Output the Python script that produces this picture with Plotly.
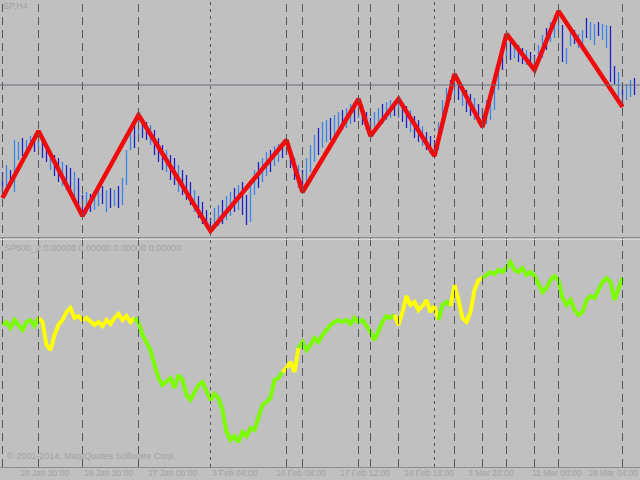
import plotly.graph_objects as go

# ---------------- data ----------------
# H4 price bars (price points), one per bar index
bar_high = [1928, 1935, 1930, 1960, 1958, 1962, 1960, 1964, 1965, 1969,
            1960, 1955, 1950, 1945, 1942, 1938, 1935, 1932, 1928, 1922,
            1905, 1908, 1906, 1910, 1912, 1914, 1910, 1912, 1910, 1914,
            1922, 1950, 1972, 1978, 1985, 1982, 1978, 1975, 1970, 1962,
            1955, 1950, 1945, 1942, 1935, 1930, 1925, 1918, 1910, 1904,
            1898, 1890, 1882, 1892, 1895, 1900, 1904, 1908, 1912, 1915,
            1918, 1905, 1915, 1930, 1938, 1942, 1948, 1950, 1954, 1956,
            1958, 1960, 1952, 1942, 1935, 1930, 1942, 1955, 1965, 1972,
            1978, 1980, 1982, 1985, 1988, 1990, 1992, 1996, 1998, 2001,
            1995, 1988, 1982, 1988, 1992, 1996, 1998, 2000, 1999, 2001,
            1998, 1994, 1990, 1984, 1980, 1974, 1968, 1964, 1960, 1978,
            2000, 2012, 2020, 2026, 2020, 2016, 2010, 2006, 2002, 1996,
            1992, 2000, 2005, 2020, 2040, 2055, 2066, 2060, 2058, 2055,
            2052, 2050, 2048, 2045, 2055, 2065, 2072, 2078, 2085, 2089,
            2075, 2052, 2068, 2070, 2066, 2070, 2082, 2078, 2076, 2078,
            2076, 2075, 2074, 2034, 2028, 2014, 2016, 2020, 2022]
bar_low = [1902, 1905, 1914, 1908, 1940, 1944, 1948, 1950, 1948, 1952,
           1942, 1938, 1930, 1924, 1918, 1914, 1910, 1904, 1900, 1893,
           1884, 1886, 1888, 1890, 1894, 1896, 1888, 1892, 1894, 1892,
           1895, 1915, 1950, 1952, 1960, 1962, 1960, 1955, 1945, 1938,
           1930, 1928, 1920, 1915, 1908, 1905, 1900, 1895, 1888, 1882,
           1876, 1872, 1869, 1872, 1874, 1876, 1880, 1884, 1888, 1890,
           1885, 1875, 1878, 1905, 1912, 1918, 1924, 1928, 1934, 1938,
           1942, 1945, 1932, 1920, 1912, 1908, 1915, 1928, 1938, 1945,
           1952, 1958, 1960, 1962, 1965, 1970, 1972, 1976, 1978, 1982,
           1975, 1970, 1964, 1968, 1972, 1976, 1980, 1982, 1984, 1982,
           1978, 1972, 1968, 1962, 1958, 1954, 1950, 1946, 1944, 1950,
           1970, 1988, 2000, 2005, 2000, 1994, 1988, 1984, 1980, 1976,
           1973, 1976, 1980, 1990, 2010, 2030, 2042, 2040, 2042, 2038,
           2036, 2035, 2032, 2030, 2035, 2042, 2050, 2058, 2062, 2068,
           2038, 2036, 2054, 2056, 2052, 2055, 2062, 2060, 2055, 2064,
           2060, 2052, 2018, 2016, 2002, 1993, 2000, 2003, 2005]
bar_up = [0, 1, 0, 1, 1, 0, 1, 1, 0, 1,
          0, 0, 1, 0, 0, 1, 0, 0, 1, 0, 0,
          1, 0, 1, 1, 0, 1, 0, 1, 0, 1, 1, 1, 0, 1,
          0, 0, 1, 0, 0, 0, 1, 0, 0, 1, 0, 0, 0, 1, 0, 0, 0, 0,
          1, 1, 0, 1, 1, 0, 1, 0, 0, 1, 1, 0, 1, 1, 0, 1, 1, 0, 1,
          0, 0, 1, 0,
          1, 1, 1, 0, 1, 1, 0, 1, 1, 0, 1, 1, 0, 1,
          0, 0, 0,
          1, 1, 0, 1, 1, 0, 1,
          0, 0, 1, 0, 0, 1, 0, 0, 0,
          1, 1, 1, 0, 1,
          0, 1, 0, 0, 1, 0, 0,
          1, 1, 1, 1, 0, 1,
          0, 1, 0, 0, 1, 0, 0,
          1, 1, 0, 1, 1, 1,
          0, 1, 1, 0, 1, 1, 0, 1, 1, 0, 1, 1, 0, 0, 1, 0, 1, 1, 0]

# ZigZag turning points (bar index, High/Low)
zz_index = [0, 9, 20, 34, 52, 71, 75, 89, 92, 99, 108, 113, 120, 126, 133, 139, 155]
zz_type = ["L", "H", "L", "H", "L", "H", "L", "H", "L", "H", "L", "H", "L", "H", "L", "H", "L"]
zz_dotted = [0, 0, 0, 0, 1, 0, 0, 0, 0, 0, 1, 0, 0, 0, 0, 0, 0]

# SP500_2 oscillator values and state (1 = yellow, 0 = green)
osc_values = [145, 148, 142, 150, 145, 140, 148, 150, 144, 152,
              148, 125, 120, 135, 145, 150, 158, 162, 152, 154,
              150, 152, 148, 145, 148, 144, 150, 146, 152, 156,
              150, 154, 148, 152, 148, 135, 128, 120, 105, 92,
              85, 88, 92, 82, 95, 90, 75, 70, 78, 85,
              88, 78, 70, 76, 72, 60, 38, 30, 34, 28,
              38, 34, 42, 40, 52, 65, 68, 72, 90, 92,
              98, 102, 108, 98, 122, 128, 120, 125, 132, 128,
              135, 140, 145, 148, 150, 148, 150, 146, 152, 148,
              150, 144, 138, 130, 140, 148, 154, 152, 155, 145,
              158, 174, 165, 168, 160, 164, 170, 158, 164, 150,
              165, 168, 164, 185, 170, 152, 148, 158, 180, 190,
              192, 195, 198, 196, 200, 198, 202, 208, 200, 198,
              202, 195, 198, 194, 185, 178, 182, 190, 194, 190,
              172, 165, 170, 160, 155, 158, 170, 174, 172, 180,
              188, 192, 188, 170, 180, 192]
osc_state = [0, 0, 0, 0, 0, 0, 0, 0, 0, 0,
             1, 1, 1, 1, 1, 1, 1, 1, 1, 1, 1, 1, 1, 1, 1, 1, 1, 1, 1, 1, 1, 1, 1, 1,
             0, 0, 0, 0, 0, 0, 0, 0, 0, 0, 0, 0, 0, 0, 0, 0, 0, 0, 0, 0, 0, 0, 0, 0,
             0, 0, 0, 0, 0, 0, 0, 0, 0, 0, 0, 0, 0,
             1, 1, 1, 1,
             0, 0, 0, 0, 0, 0, 0, 0, 0, 0, 0, 0, 0, 0, 0, 0, 0, 0, 0, 0, 0, 0, 0, 0,
             1, 1, 1, 1, 1, 1, 1, 1, 1, 1, 1,
             0, 0, 0,
             1, 1, 1, 1, 1, 1, 1, 1,
             0, 0, 0, 0, 0, 0, 0, 0, 0, 0, 0, 0, 0, 0, 0, 0, 0, 0, 0, 0, 0, 0, 0, 0,
             0, 0, 0, 0, 0, 0, 0, 0, 0, 0, 0]

tick_index = [4, 20, 36, 52, 68, 84, 100, 116, 132, 148]
tick_labels = ["10 Jan 20:00", "19 Jan 20:00", "27 Jan 00:00", "3 Feb 04:00",
               "10 Feb 08:00", "17 Feb 12:00", "24 Feb 16:00", "3 Mar 20:00",
               "11 Mar 00:00", "18 Mar 04:00"]

hline_price = 2015
symbol_label = "SP,H4"
indicator_label = "SP500_2 0.00000 0.00000 0.00000 0.00000"
copyright_label = "\u00a9 2001-2014, MetaQuotes Software Corp."

# ---------------- styling ----------------
BG = "#c0c0c0"
UP_COLOR = "#3a86e8"
DN_COLOR = "#1c22c8"
ZZ_COLOR = "#f00a0a"
GREEN = "#7cfc00"
YELLOW = "#ffff00"
TXT = "#a2a2a2"

fig = go.Figure()

# price bars
for flag, col in ((1, UP_COLOR), (0, DN_COLOR)):
    xs, ys = [], []
    for i, (h, l, u) in enumerate(zip(bar_high, bar_low, bar_up)):
        if u == flag:
            xs += [i, i, None]
            ys += [l, h, None]
    fig.add_trace(go.Scatter(x=xs, y=ys, mode="lines", line=dict(color=col, width=1.3),
                             hoverinfo="skip", showlegend=False, xaxis="x", yaxis="y"))

# zigzag
zz_y = [bar_high[i] if t == "H" else bar_low[i] for i, t in zip(zz_index, zz_type)]
fig.add_trace(go.Scatter(x=zz_index, y=zz_y, mode="lines",
                         line=dict(color=ZZ_COLOR, width=4.5),
                         showlegend=False, xaxis="x", yaxis="y"))

# oscillator, coloured runs
runs = []
start = 0
for k in range(1, len(osc_values) + 1):
    if k == len(osc_values) or osc_state[k] != osc_state[start]:
        runs.append((start, k - 1, osc_state[start]))
        start = k
for a, b, s in runs:
    a0 = a - 1 if a > 0 else a
    xs = list(range(a0, b + 1))
    ys = [osc_values[k] for k in xs]
    fig.add_trace(go.Scatter(x=xs, y=ys, mode="lines",
                             line=dict(color=YELLOW if s else GREEN, width=4),
                             showlegend=False, xaxis="x", yaxis="y2"))

shapes = []
# vertical zigzag lines
for idx, dot in zip(zz_index, zz_dotted):
    shapes.append(dict(type="line", xref="x", yref="paper", x0=idx, x1=idx,
                       y0=1 - 467 / 480, y1=1,
                       line=dict(color="#55555c", width=1,
                                 dash="3px,4px" if dot else "8px,5px")))
# horizontal price line
shapes.append(dict(type="line", xref="paper", yref="y", x0=0, x1=1,
                   y0=hline_price, y1=hline_price,
                   line=dict(color="#6a6a7a", width=1)))
# panel separators
for ypx, col in ((237.5, "#8c8c8c"), (239.5, "#d8d8d8"), (467.5, "#8c8c8c")):
    shapes.append(dict(type="line", xref="paper", yref="paper", x0=0, x1=1,
                       y0=1 - ypx / 480, y1=1 - ypx / 480,
                       line=dict(color=col, width=1)))

annotations = []
FONT = "Liberation Sans, Arial, sans-serif"
for n, (idx, lab) in enumerate(zip(tick_index, tick_labels)):
    last = n == len(tick_labels) - 1
    annotations.append(dict(x=(639 / 640) if last else idx, y=1 - 473 / 480,
                            xref="paper" if last else "x", yref="paper",
                            text=lab, showarrow=False,
                            xanchor="right" if last else "left", yanchor="middle",
                            borderpad=0,
                            font=dict(family=FONT, size=8.5, color=TXT)))
annotations.append(dict(x=2 / 640, y=1 - 6 / 480, xref="paper", yref="paper",
                        text=symbol_label, showarrow=False, xanchor="left", yanchor="middle",
                        borderpad=0,
                        font=dict(family=FONT, size=9, color=TXT)))
annotations.append(dict(x=2 / 640, y=1 - 248 / 480, xref="paper", yref="paper",
                        text=indicator_label, showarrow=False, xanchor="left", yanchor="middle",
                        font=dict(family=FONT, size=9, color=TXT)))
annotations.append(dict(x=5 / 640, y=1 - 456 / 480, xref="paper", yref="paper",
                        text=copyright_label, showarrow=False, xanchor="left", yanchor="middle",
                        font=dict(family=FONT, size=9, color=TXT)))

fig.update_layout(
    width=640, height=480,
    margin=dict(l=0, r=0, t=0, b=0),
    paper_bgcolor=BG, plot_bgcolor=BG,
    showlegend=False,
    xaxis=dict(range=[-0.625, 159.375], domain=[0, 1], showgrid=False, zeroline=False,
               showticklabels=False, ticks="", showline=False, anchor="y2"),
    yaxis=dict(range=[1864, 2100], domain=[1 - 236 / 480, 1], showgrid=False,
               zeroline=False, showticklabels=False, ticks="", anchor="x"),
    yaxis2=dict(range=[3, 229], domain=[1 - 467 / 480, 1 - 241 / 480], showgrid=False,
                zeroline=False, showticklabels=False, ticks="", anchor="x"),
    shapes=shapes,
    annotations=annotations,
)

fig.write_html("out.html", config={"displayModeBar": False},
               post_script="document.body.style.margin='0';document.body.style.background='#c0c0c0';")
